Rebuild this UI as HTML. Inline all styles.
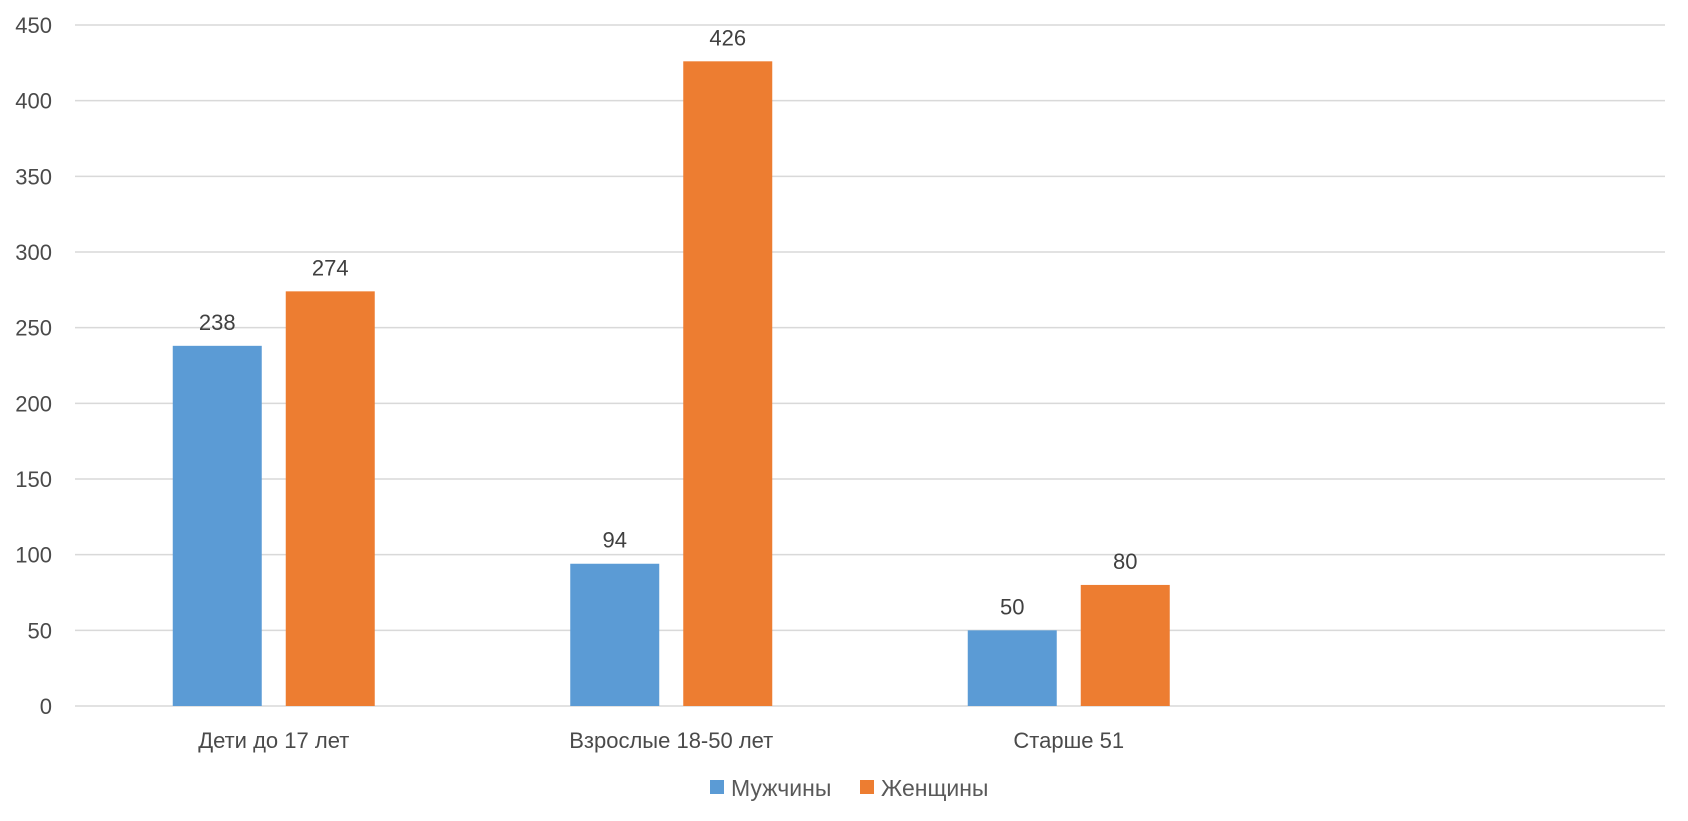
<!DOCTYPE html>
<html><head><meta charset="utf-8"><style>
body{margin:0;background:#fff;}
svg{display:block;font-family:"Liberation Sans",Carlito,sans-serif;}
</style></head><body>
<svg id="chart" width="1688" height="821" viewBox="0 0 1688 821">
<g id="grid"></g><g id="bars"></g><g id="labels"></g>
<g>
<rect x="710" y="780" width="14" height="14" fill="#5b9bd5"/>
<text x="731" y="796" font-size="23" fill="#595959">Мужчины</text>
<rect x="860" y="780" width="14" height="14" fill="#ed7d31"/>
<text x="881" y="796" font-size="23" fill="#595959">Женщины</text>
</g>
</svg>
<script>
const categories=["Дети до 17 лет","Взрослые 18-50 лет","Старше 51",""];
const men=[238,94,50];
const women=[274,426,80];
const ticks=[0,50,100,150,200,250,300,350,400,450];
const NS="http://www.w3.org/2000/svg";
const x0=75,x1=1665,y0=706,yMax=450,yTop=25;
const y=v=>y0-(v/yMax)*(y0-yTop);
const band=(x1-x0)/categories.length;
const cx=i=>x0+band*(i+0.5);
const bw=89,gap=24;
function mk(t,a,p){const e=document.createElementNS(NS,t);for(const k in a)e.setAttribute(k,a[k]);p.appendChild(e);return e;}
const g=document.getElementById('grid'),b=document.getElementById('bars'),l=document.getElementById('labels');
ticks.forEach(t=>{
 const ln=mk('line',{x1:x0,x2:x1,y1:y(t),y2:y(t),stroke:'#d9d9d9','stroke-width':1.5},g);
 
 
 const tx=mk('text',{x:52,y:y(t)+8,'font-size':22,fill:'#4a4a4a','text-anchor':'end'},g);
 tx.textContent=t;
 
 
});
const series=[{d:men,c:'#5b9bd5',n:'men',off:-(gap/2+bw)},{d:women,c:'#ed7d31',n:'women',off:gap/2}];
series.forEach(s=>{
 s.d.forEach((v,i)=>{
  const r=mk('rect',{x:cx(i)+s.off,y:y(v),width:bw,height:y0-y(v),fill:s.c},b);
  
  
  const t=mk('text',{x:cx(i)+s.off+bw/2,y:y(v)-16,'font-size':22,fill:'#404040','text-anchor':'middle'},l);
  t.textContent=v;
  
  
 });
});
categories.forEach((c,i)=>{
 if(!c)return;
 const t=mk('text',{x:cx(i),y:748,'font-size':22,fill:'#4a4a4a','text-anchor':'middle'},l);
 t.textContent=c;
 
 
});
</script>
</body></html>
